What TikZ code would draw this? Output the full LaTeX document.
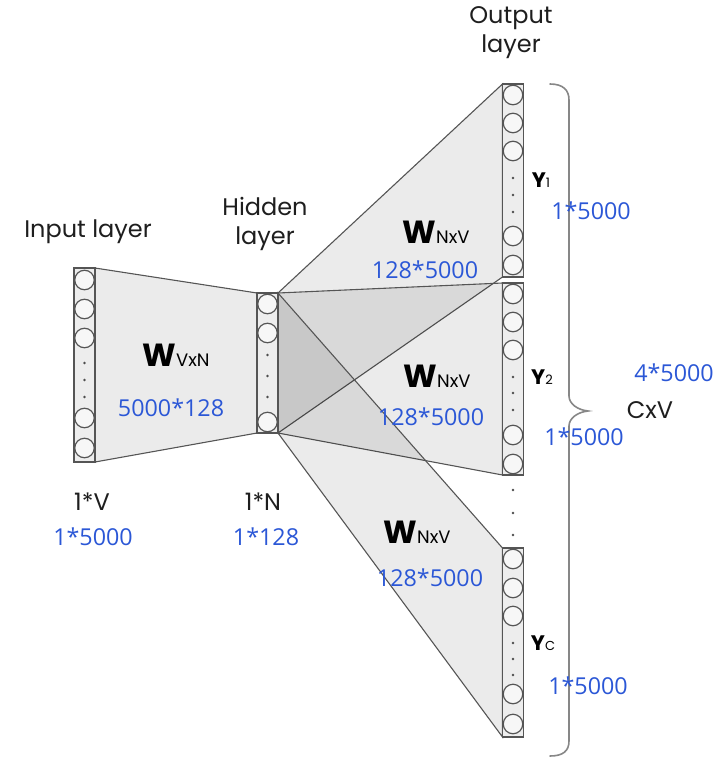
\documentclass[tikz,border=0pt]{standalone}
\usepackage{fontspec}
\setmainfont{Poppins}
\newfontfamily\numfont{Open Sans}
\definecolor{numblue}{RGB}{43,87,214}
\definecolor{linegray}{RGB}{85,85,85}
\definecolor{txt}{RGB}{30,30,30}
\definecolor{bracegray}{RGB}{135,135,135}
\begin{document}
\begin{tikzpicture}[x=1pt,y=-1pt,
  lbl/.style={font=\fontsize{24}{29}\selectfont, text=txt, inner sep=0, align=center},
  num/.style={font=\numfont\fontsize{23.3}{25}\selectfont, text=numblue, inner sep=0},
  wlab/.style={font=\fontsize{32}{32}\selectfont, text=black, inner sep=0},
  ylab/.style={font=\fontsize{21}{21}\selectfont, text=black, inner sep=0},
  fan/.style={fill=black, fill opacity=0.08, draw=linegray, line width=1.1pt},
  col/.style={draw=linegray, fill=black!7, line width=1.2pt, rectangle, outer sep=0, inner sep=0, minimum width=21pt},
  unit/.style={circle, draw=linegray, fill=black!3, line width=1.2pt, minimum size=19.5pt, inner sep=0},
  dotn/.style={circle, fill=black!70, minimum size=2.6pt, inner sep=0},
  bracel/.style={draw=bracegray, line width=1.6pt, line cap=round}]
\useasboundingbox (0,0) rectangle (728,763);
% columns (layers)
\node[col, minimum height=194pt] (in) at (84.5,365) {};
\node[col, minimum height=140pt] (hid) at (267.5,363) {};
\node[col, minimum height=193pt] (y1) at (513,180.5) {};
\node[col, minimum height=192pt] (y2) at (513,379) {};
\node[col, minimum height=189pt] (yc) at (513,642.5) {};
% weight regions
\path[fan] (in.north east) -- (hid.north west) -- (hid.south west) -- (in.south east) -- cycle;
\path[fan] (hid.north east) -- (y1.north west) -- (y1.south west) -- (hid.south east) -- cycle;
\path[fan] (hid.north east) -- (y2.north west) -- (y2.south west) -- (hid.south east) -- cycle;
\path[fan] (hid.north east) -- (yc.north west) -- (yc.south west) -- (hid.south east) -- cycle;
% redraw columns on top
\node[col, minimum height=194pt] at (84.5,365) {};
\node[col, minimum height=140pt] at (267.5,363) {};
\node[col, minimum height=193pt] at (513,180.5) {};
\node[col, minimum height=192pt] at (513,379) {};
\node[col, minimum height=189pt] at (513,642.5) {};
% units
\foreach \n/\y in {1/280,2/309,3/338,4/418,5/448} \node[unit] (in\n) at (84.5,\y) {};
\foreach \n/\y in {1/363,2/380,3/397} \node[dotn] (ind\n) at (84.5,\y) {};
\foreach \n/\y in {1/304,2/333,3/422} \node[unit] (h\n) at (267.5,\y) {};
\foreach \n/\y in {1/355,2/376,3/397} \node[dotn] (hd\n) at (267.5,\y) {};
\foreach \n/\y in {1/95,2/123,3/151,4/236,5/265} \node[unit] (ya\n) at (513,\y) {};
\foreach \n/\y in {1/178,2/195,3/212} \node[dotn] (yad\n) at (513,\y) {};
\foreach \n/\y in {1/294,2/322,3/350,4/435,5/464} \node[unit] (yb\n) at (513,\y) {};
\foreach \n/\y in {1/377,2/393,3/410} \node[dotn] (ybd\n) at (513,\y) {};
\foreach \n/\y in {1/559,2/588,3/616,4/694,5/724} \node[unit] (yc\n) at (513,\y) {};
\foreach \n/\y in {1/643,2/659,3/675} \node[dotn] (ycd\n) at (513,\y) {};
\foreach \n/\y in {1/490,2/513,3/535} \node[dotn] (gap\n) at (513,\y) {};
% brace
\draw[bracel] (550,84) .. controls (563,84) and (569,90) .. (569,100) -- (569,396)
  .. controls (569,404) and (578,410) .. (588,411)
  .. controls (578,412) and (569,418) .. (569,426) -- (569,741)
  .. controls (569,751) and (563,756) .. (550,756);
% labels
\node[lbl] (tin) at (88,232) {Input layer};
\node[lbl] (thid) at (265,224) {Hidden\\layer};
\node[lbl] (tout) at (511,33) {Output\\layer};
\node[lbl] (tv) at (92,502) {1*V};
\node[lbl] (tn) at (263,502) {1*N};
\node[num] (nv) at (93,537) {1*5000};
\node[num] (nn) at (266,537) {1*128};
\node[wlab] (w1) at (176,355) {\textbf{W}{\fontsize{18}{18}\selectfont VxN}};
\node[num] (n1) at (171,408) {5000*128};
\node[wlab] (w2) at (436,232) {\textbf{W}{\fontsize{18}{18}\selectfont NxV}};
\node[num] (n2) at (425,270) {128*5000};
\node[wlab] (w3) at (437,376) {\textbf{W}{\fontsize{18}{18}\selectfont NxV}};
\node[num] (n3) at (431,417) {128*5000};
\node[wlab] (w4) at (417,532) {\textbf{W}{\fontsize{18}{18}\selectfont NxV}};
\node[num] (n4) at (430,578) {128*5000};
\node[ylab] (l1) at (541,180) {\textbf{Y}{\fontsize{13}{13}\selectfont 1}};
\node[ylab] (l2) at (542,377) {\textbf{Y}{\fontsize{13}{13}\selectfont 2}};
\node[ylab] (l3) at (543,643) {\textbf{Y}{\fontsize{13}{13}\selectfont C}};
\node[num] (r1) at (591,211) {1*5000};
\node[num] (r2) at (584,437) {1*5000};
\node[num] (r3) at (588,686) {1*5000};
\node[num] (rt) at (674,373) {4*5000};
\node[lbl] (cxv) at (650,410) {CxV};
\end{tikzpicture}
\end{document}
